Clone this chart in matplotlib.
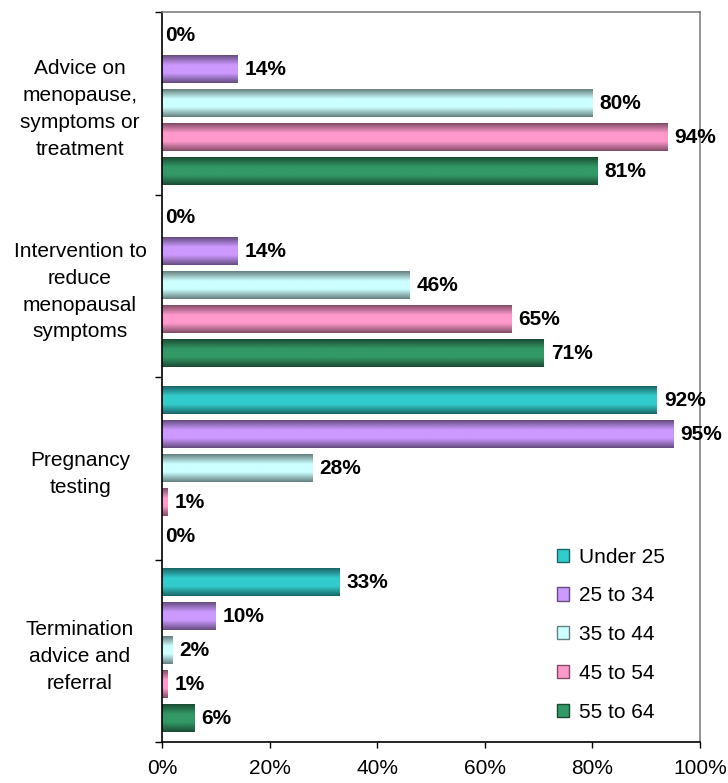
import numpy as np
import matplotlib
matplotlib.use("Agg")
import matplotlib.pyplot as plt
from matplotlib.patches import Rectangle
from matplotlib.ticker import FixedLocator, PercentFormatter

categories = ["Advice on\nmenopause,\nsymptoms or\ntreatment",
              "Intervention to\nreduce\nmenopausal\nsymptoms",
              "Pregnancy\ntesting",
              "Termination\nadvice and\nreferral"]
series = ["Under 25", "25 to 34", "35 to 44", "45 to 54", "55 to 64"]
under25 = [0, 0, 92, 33]
age25_34 = [14, 14, 95, 10]
age35_44 = [80, 46, 28, 2]
age45_54 = [94, 65, 1, 1]
age55_64 = [81, 71, 0, 6]
values = [under25, age25_34, age35_44, age45_54, age55_64]

light = ["#33CCCC", "#CC99FF", "#CCFFFF", "#FF99CC", "#339966"]
dark = ["#1A6666", "#664C80", "#668080", "#804C66", "#1A4C33"]

plt.rcParams['font.family'] = ['Liberation Sans', 'DejaVu Sans']
FS = 15

fig = plt.figure(figsize=(7.28, 7.83), dpi=100)
ax = fig.add_axes([162/728, 1-742/783, (700-162)/728, (742-12)/783])

pitch = 0.186
h = 0.148

def grad_img(c1, c2, n=64):
    a = np.array(matplotlib.colors.to_rgb(c1))
    b = np.array(matplotlib.colors.to_rgb(c2))
    t = np.linspace(0, 1, n)
    f = np.clip((1 - np.abs(2*t - 1)) / 0.7, 0, 1)
    img = a[None, :] * (1 - f[:, None]) + b[None, :] * f[:, None]
    return img[:, None, :]

for j, s in enumerate(series):
    ys = np.arange(len(categories)) + (j - 2) * pitch
    bars = ax.barh(ys, values[j], height=h, color=light[j], linewidth=0, label=s)
    img = grad_img(dark[j], light[j])
    for bar, v in zip(bars, values[j]):
        if v > 0:
            x0, y0 = bar.get_x(), bar.get_y()
            ax.imshow(img, extent=(x0, x0 + bar.get_width(), y0, y0 + bar.get_height()),
                      aspect='auto', interpolation='bilinear', zorder=2)
        ax.annotate(f"{v}%", (v, bar.get_y() + bar.get_height()/2), xytext=(5 if v > 0 else 2, 0),
                    textcoords='offset points', ha='left', va='center',
                    fontsize=FS, fontweight='bold', zorder=3)

ax.set_xlim(0, 100)
ax.set_ylim(3.5, -0.5)
ax.xaxis.set_major_locator(FixedLocator([0, 20, 40, 60, 80, 100]))
ax.xaxis.set_major_formatter(PercentFormatter(decimals=0))
ax.tick_params(axis='x', direction='out', length=4.5, pad=8, labelsize=FS, width=1)
ax.set_yticks(range(len(categories)))
ax.set_yticklabels(categories, fontsize=FS, ha='center', linespacing=1.52)
ax.tick_params(axis='y', which='major', length=0, pad=59)
ax.yaxis.set_minor_locator(FixedLocator(np.arange(-0.5, 4, 1.0)))
ax.tick_params(axis='y', which='minor', length=5, direction='out', width=1)

for sp in ['left', 'bottom']:
    ax.spines[sp].set_color('black')
    ax.spines[sp].set_linewidth(1.2)
for sp in ['top', 'right']:
    ax.spines[sp].set_color('#808080')
    ax.spines[sp].set_linewidth(1.2)

handles = [Rectangle((0, 0), 1, 1, facecolor=light[j], edgecolor=dark[j], linewidth=1.0)
           for j in range(len(series))]
fig.legend(handles, series, loc='upper left', bbox_to_anchor=(542/728, 1-533/783),
           frameon=False, fontsize=FS, handlelength=0.6, handleheight=0.6,
           handletextpad=0.5, labelspacing=0.95, borderpad=0.2)

fig.savefig("out.png", dpi=100)
